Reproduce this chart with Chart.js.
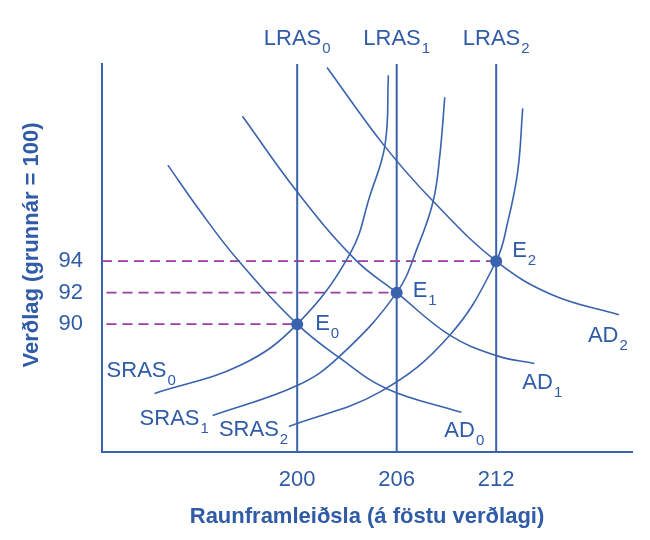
<!DOCTYPE html>
<html>
<head>
<meta charset="utf-8">
<script src="https://cdn.jsdelivr.net/npm/chart.js@4.4.1/dist/chart.umd.min.js"></script>
<style>
  html, body { margin: 0; padding: 0; background: #fff; }
  #wrap { width: 650px; height: 540px; }
</style>
</head>
<body>
<div id="wrap"><canvas id="adas" width="650" height="540"></canvas></div>
<script>
// axes
const xTicks = [200, 206, 212];
const yTicks = [90, 92, 94];
const xRange = [188.23, 220.19];
const yRange = [81.88, 106.52];

// langtímaframboð (lóðréttar línur) og jafnvægispunktar
const lrasX = [200, 206, 212];
const eqX = [200, 206, 212];
const eqY = [90, 92, 94];
const guideStart = [188.5, 188.5, 188.23];

// heildareftirspurn, [raunframleiðsla, verðlag]
const ad0 = [[192.2, 100.1], [194.2, 97.1], [196.4, 94.1], [200, 90], [202.5, 87.9], [205.4, 85.9], [209.9, 84.4]];
const ad1 = [[196.7, 103.2], [200, 98.4], [203.5, 94.1], [206, 92], [209.2, 89.3], [212, 88], [214.3, 87.5]];
const ad2 = [[201.8, 106.3], [205.2, 101.4], [208.2, 97.8], [212, 94], [215.4, 91.85], [219.4, 90.6]];

// skammtímaframboð
const sras0 = [[191.4, 85.6], [196.6, 87.4], [200, 90], [203.2, 94.5], [204.4, 98.2], [205.3, 101.4], [205.5, 105.8]];
const sras1 = [[194.9, 84.2], [200, 86.1], [202.5, 87.9], [206, 92], [207.3, 95.0], [208.2, 97.8], [208.6, 100.7], [208.9, 104.4]];
const sras2 = [[199.5, 83.5], [205, 85.7], [209.2, 89.3], [212, 94], [212.7, 96.5], [213.3, 99.7], [213.6, 103.7]];

const blue = '#3a63ae';
const textBlue = '#2f5ba7';
const purple = '#9a3d9e';
const family = '"Liberation Sans", Arial, sans-serif';

const datasets = [];
datasets.push({
  label: 'E',
  data: eqX.map((x, i) => ({ x: x, y: eqY[i] })),
  showLine: false,
  pointRadius: 6,
  pointBackgroundColor: blue,
  pointBorderWidth: 0,
  order: 0
});
lrasX.forEach((x, i) => {
  datasets.push({
    label: 'LRAS' + i,
    data: [{ x: x, y: yRange[0] }, { x: x, y: yRange[1] }],
    borderColor: blue, borderWidth: 2, pointRadius: 0, order: 3
  });
});
eqX.forEach((x, i) => {
  datasets.push({
    label: 'guide' + i,
    data: [{ x: guideStart[i], y: eqY[i] }, { x: x, y: eqY[i] }],
    borderColor: purple, borderWidth: 1.6, borderDash: [10, 6], pointRadius: 0, order: 2
  });
});
const curves = { AD0: ad0, AD1: ad1, AD2: ad2, SRAS0: sras0, SRAS1: sras1, SRAS2: sras2 };
Object.keys(curves).forEach(name => {
  datasets.push({
    label: name,
    data: curves[name],
    borderColor: blue, borderWidth: 1.6, pointRadius: 0, tension: 0.4, order: 1
  });
});

// merkingar: [texti, lágstafur, ferill, endi, dx, dy]
const curveLabels = [
  ['AD', '0', ad0, 'end', -17, 25],
  ['AD', '1', ad1, 'end', -12, 25],
  ['AD', '2', ad2, 'end', -31, 27],
  ['SRAS', '0', sras0, 'start', -48, -16],
  ['SRAS', '1', sras1, 'start', -73, 10],
  ['SRAS', '2', sras2, 'start', -70, 10]
];
const eqLabelOffset = [[18, 6], [16, 4], [16, -4]];

function subText(ctx, main, sub, x, y, center) {
  ctx.font = '22px ' + family;
  const w1 = ctx.measureText(main).width;
  ctx.font = '15px ' + family;
  const w2 = ctx.measureText(sub).width;
  const left = center ? x - (w1 + w2 + 1) / 2 : x;
  ctx.font = '22px ' + family;
  ctx.fillText(main, left, y);
  ctx.font = '15px ' + family;
  ctx.fillText(sub, left + w1 + 1, y + 8);
}

const labelPlugin = {
  id: 'labels',
  afterDraw(chart) {
    const ctx = chart.ctx;
    const xs = chart.scales.x, ys = chart.scales.y;
    ctx.save();
    ctx.fillStyle = textBlue;
    ctx.textBaseline = 'alphabetic';
    ctx.textAlign = 'left';
    curveLabels.forEach(l => {
      const pt = l[3] === 'end' ? l[2][l[2].length - 1] : l[2][0];
      subText(ctx, l[0], l[1], xs.getPixelForValue(pt[0]) + l[4], ys.getPixelForValue(pt[1]) + l[5], false);
    });
    eqX.forEach((x, i) => {
      subText(ctx, 'E', String(i), xs.getPixelForValue(x) + eqLabelOffset[i][0], ys.getPixelForValue(eqY[i]) + eqLabelOffset[i][1], false);
    });
    lrasX.forEach((x, i) => {
      subText(ctx, 'LRAS', String(i), xs.getPixelForValue(x), ys.getPixelForValue(yRange[1]) - 19, true);
    });
    // y-ás titill
    ctx.translate(32, 245);
    ctx.rotate(-Math.PI / 2);
    ctx.textAlign = 'center';
    ctx.textBaseline = 'middle';
    ctx.font = 'bold 22px ' + family;
    ctx.fillText('Verðlag (grunnár = 100)', 0, 0);
    ctx.restore();
  }
};

new Chart(document.getElementById('adas'), {
  type: 'line',
  data: { datasets: datasets },
  options: {
    responsive: false,
    animation: false,
    layout: { padding: { top: 64, right: 18, left: 0, bottom: 0 } },
    plugins: { legend: { display: false }, tooltip: { enabled: false } },
    scales: {
      x: {
        type: 'linear', min: xRange[0], max: xRange[1],
        afterBuildTicks: s => { s.ticks = xTicks.map(v => ({ value: v })); },
        afterFit: s => { s.height = 88; },
        grid: { display: false, drawTicks: false },
        border: { color: blue, width: 2 },
        ticks: { color: textBlue, font: { family: family, size: 22 }, padding: 15 },
        title: {
          display: true, text: 'Raunframleiðsla (á föstu verðlagi)', color: textBlue,
          font: { family: family, size: 22, weight: 'bold' }, padding: { top: 0, bottom: 10 }
        }
      },
      y: {
        type: 'linear', min: yRange[0], max: yRange[1],
        afterBuildTicks: s => { s.ticks = yTicks.map(v => ({ value: v })); },
        afterFit: s => { s.width = 102; },
        grid: { display: false, drawTicks: false },
        border: { color: blue, width: 2 },
        ticks: { color: textBlue, font: { family: family, size: 22 }, padding: 19 }
      }
    }
  },
  plugins: [labelPlugin]
});
</script>
</body>
</html>
